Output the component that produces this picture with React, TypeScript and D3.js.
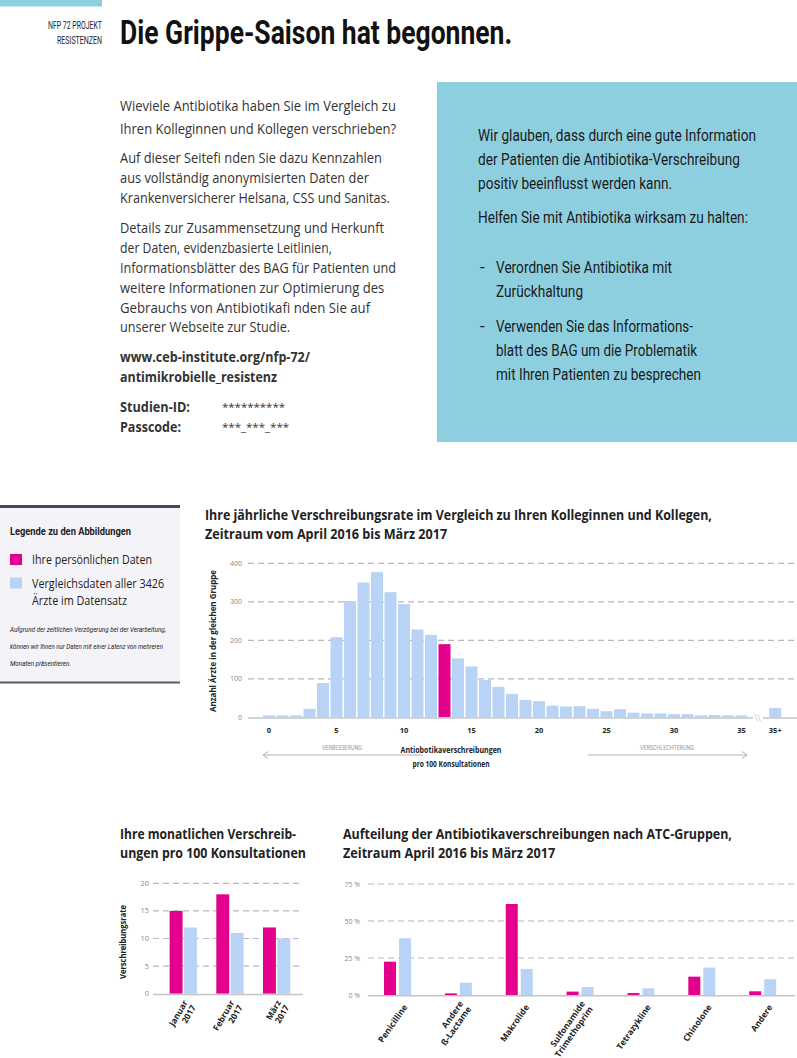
import React, { useLayoutEffect, useRef, useState, useEffect } from "react";
import * as d3 from "d3";

// ---------- DATA ----------
const histBins = [0, 1, 2, 3, 4, 5, 6, 7, 8, 9, 10, 11, 12, 13, 14, 15, 16, 17, 18, 19, 20, 21, 22, 23, 24, 25, 26, 27, 28, 29, 30, 31, 32, 33, 34, 35];
const histCounts = [5, 5, 5, 22, 89, 208, 302, 350, 377, 325, 294, 228, 214, 190, 153, 132, 97, 79, 61, 45, 42, 30, 28, 29, 22, 16, 21, 12, 10, 10, 8, 8, 5, 6, 5, 5];
const histOverflowLabel = "35+";
const histOverflowCount = 24;
const ownBin = 13;
const histXTicks = [0, 5, 10, 15, 20, 25, 30, 35];
const histYTicks = [0, 100, 200, 300, 400];

const months = ["Januar|2017", "Februar|2017", "März|2017"];
const monthOwn = [15, 18, 12];
const monthAll = [12, 11, 10];
const monthYTicks = [0, 5, 10, 15, 20];

const atcGroups = ["Penicilline", "Andere|ß-Lactame", "Makrolide", "Sulfonamide|Trimethoprim", "Tetrazykline", "Chinolone", "Andere"];
const atcOwn = [22.5, 1.1, 61.5, 2.3, 1.3, 12.4, 2.5];
const atcAll = [38.3, 8.3, 17.6, 5.4, 4.5, 18.5, 10.6];
const atcYTicks = [0, 25, 50, 75];

// ---------- STYLE ----------
const PINK = "#e2008c";
const BLUE = "#b9d3f6";
const TEAL = "#8ecfdf";
const GRID = "#b8b8b8";
const TEXT = "'Open Sans', 'Noto Sans', sans-serif";
const COND = "'Liberation Sans Narrow', 'Roboto', 'Noto Sans', sans-serif";

type TP = {
  x: number; y: number; w?: number; size: number; weight?: number; family?: string;
  anchor?: string; fill?: string; italic?: boolean; rotate?: number; children: React.ReactNode;
};

// Text that is horizontally scaled to a target width (measured after layout)
function T({ x, y, w, size, weight = 400, family = TEXT, anchor = "start", fill = "#222", italic = false, rotate = 0, children }: TP) {
  const ref = useRef<SVGTextElement>(null);
  const [s, setS] = useState(1);
  const measure = () => {
    if (w && ref.current) {
      const n = ref.current.getComputedTextLength();
      if (n > 0) setS(w / n);
    }
  };
  useLayoutEffect(measure, [w, children, size, family, weight]);
  useEffect(() => {
    const f: any = (document as any).fonts;
    if (f && f.ready) f.ready.then(measure);
  }, []);
  return (
    <text
      ref={ref}
      transform={`translate(${x},${y}) rotate(${rotate}) scale(${s},1)`}
      x={0}
      y={0}
      fontSize={size}
      fontWeight={weight}
      fontFamily={family}
      textAnchor={anchor as any}
      fill={fill}
      fontStyle={italic ? "italic" : "normal"}
    >
      {children}
    </text>
  );
}

function Histogram() {
  const x = d3.scaleLinear().domain([0, 37.5]).range([269, 775.25]);
  const y = d3.scaleLinear().domain([0, 400]).range([717.3, 563.3]);
  const bw = 12;
  return (
    <g>
      <T x={205} y={520} w={507} size={14.5} weight={700}>Ihre jährliche Verschreibungsrate im Vergleich zu Ihren Kolleginnen und Kollegen,</T>
      <T x={205} y={539} w={242} size={14.5} weight={700}>Zeitraum vom April 2016 bis März 2017</T>
      {histYTicks.filter((t) => t > 0).map((t) => (
        <line key={t} x1={248} x2={797} y1={y(t)} y2={y(t)} stroke={GRID} strokeWidth={1.2} strokeDasharray="6,4" />
      ))}
      {histYTicks.map((t) => (
        <T key={t} x={242} y={y(t) + 2.5} size={7} fill="#8a8a8a" anchor="end">{t}</T>
      ))}
      {histBins.map((b, i) => (
        <rect key={b} x={x(b) - bw / 2} y={y(histCounts[i])} width={bw} height={y(0) - y(histCounts[i])} fill={b === ownBin ? PINK : BLUE} />
      ))}
      <rect x={x(37.5) - bw / 2} y={y(histOverflowCount)} width={bw} height={y(0) - y(histOverflowCount)} fill={BLUE} />
      <line x1={248} x2={753} y1={y(0) + 0.7} y2={y(0) + 0.7} stroke="#c4c4c4" strokeWidth={1.5} />
      <line x1={763} x2={797} y1={y(0) + 0.7} y2={y(0) + 0.7} stroke="#c4c4c4" strokeWidth={1.5} />
      <line x1={755} x2={757.5} y1={y(0) - 3} y2={y(0) + 4} stroke="#c4c4c4" strokeWidth={0.8} />
      <line x1={758} x2={760.5} y1={y(0) - 3} y2={y(0) + 4} stroke="#c4c4c4" strokeWidth={0.8} />
      {histXTicks.map((t) => (
        <T key={t} x={x(t)} y={733} size={7.5} weight={700} anchor="middle">{t}</T>
      ))}
      <T x={x(37.5)} y={733} size={7.5} weight={700} anchor="middle">{histOverflowLabel}</T>
      <T x={216} y={641} w={142} rotate={-90} size={8.6} weight={700} anchor="middle">Anzahl Ärzte in der gleichen Gruppe</T>
      {/* direction arrows */}
      <T x={342} y={750} w={40} size={6.5} family={COND} fill="#999" anchor="middle">VERBESSERUNG</T>
      <line x1={263} x2={423} y1={755} y2={755} stroke="#aaa" strokeWidth={0.9} />
      <polyline points="268,751.5 263,755 268,758.5" fill="none" stroke="#aaa" strokeWidth={0.9} />
      <T x={667} y={750} w={54} size={6.5} family={COND} fill="#999" anchor="middle">VERSCHLECHTERUNG</T>
      <line x1={588} x2={747} y1={755} y2={755} stroke="#aaa" strokeWidth={0.9} />
      <polyline points="742,751.5 747,755 742,758.5" fill="none" stroke="#aaa" strokeWidth={0.9} />
      <T x={451} y={753} w={101} size={8.5} weight={700} anchor="middle">Antiobotikaverschreibungen</T>
      <T x={451} y={767} w={77} size={8.5} weight={700} anchor="middle">pro 100 Konsultationen</T>
    </g>
  );
}

function MonthlyChart() {
  const x = d3.scaleBand().domain(months).range([160, 300]);
  const inner = d3.scaleBand().domain(["own", "all"]).range([-13.7, 13.6]).paddingInner(0.1);
  const y = d3.scaleLinear().domain([0, 20]).range([993.7, 883.3]);
  return (
    <g>
      <T x={120} y={839} w={176} size={14.5} weight={700}>Ihre monatlichen Verschreib-</T>
      <T x={120} y={858} w={186} size={14.5} weight={700}>ungen pro 100 Konsultationen</T>
      {monthYTicks.filter((t) => t > 0).map((t) => (
        <line key={t} x1={153} x2={303} y1={y(t)} y2={y(t)} stroke={GRID} strokeWidth={1.2} strokeDasharray="6,4" />
      ))}
      {monthYTicks.map((t) => (
        <T key={t} x={149} y={y(t) + 2.5} size={7.5} fill="#8a8a8a" anchor="end">{t}</T>
      ))}
      {months.map((m, i) => {
        const c = (x(m) as number) + x.bandwidth() / 2;
        return (
          <g key={m}>
            <rect x={c + (inner("own") as number)} y={y(monthOwn[i])} width={inner.bandwidth()} height={y(0) - y(monthOwn[i])} fill={PINK} />
            <rect x={c + (inner("all") as number)} y={y(monthAll[i])} width={inner.bandwidth()} height={y(0) - y(monthAll[i])} fill={BLUE} />
            <g transform={`translate(${c + 2},${1001}) rotate(-60)`}>
              {m.split("|").map((line, j) => (
                <text key={j} x={0} y={3 + j * 9.5} fontSize={8.5} fontWeight={700} fontFamily={TEXT} textAnchor="end" fill="#222">{line}</text>
              ))}
            </g>
          </g>
        );
      })}
      <line x1={153} x2={303} y1={y(0) + 0.7} y2={y(0) + 0.7} stroke="#c4c4c4" strokeWidth={1.5} />
      <T x={126} y={942} w={74} rotate={-90} size={8.6} weight={700} anchor="middle">Verschreibungsrate</T>
    </g>
  );
}

function AtcChart() {
  const x = d3.scaleBand().domain(atcGroups).range([368, 794]);
  const inner = d3.scaleBand().domain(["own", "all"]).range([-14.4, 12.6]).paddingInner(0.2);
  const y = d3.scaleLinear().domain([0, 75]).range([995, 884]);
  return (
    <g>
      <T x={343} y={839} w={389} size={14.5} weight={700}>Aufteilung der Antibiotikaverschreibungen nach ATC-Gruppen,</T>
      <T x={343} y={858} w={212} size={14.5} weight={700}>Zeitraum April 2016 bis März 2017</T>
      {atcYTicks.filter((t) => t > 0).map((t) => (
        <line key={t} x1={368} x2={795} y1={y(t)} y2={y(t)} stroke={GRID} strokeWidth={1.2} strokeDasharray="6,4" />
      ))}
      {atcYTicks.map((t) => (
        <T key={t} x={360} y={y(t) + 2.5} size={7} fill="#8a8a8a" anchor="end">{`${t} %`}</T>
      ))}
      {atcGroups.map((g, i) => {
        const c = (x(g) as number) + x.bandwidth() / 2;
        const lines = g.split("|");
        return (
          <g key={g + i}>
            <rect x={c + (inner("own") as number)} y={y(atcOwn[i])} width={inner.bandwidth()} height={y(0) - y(atcOwn[i])} fill={PINK} />
            <rect x={c + (inner("all") as number)} y={y(atcAll[i])} width={inner.bandwidth()} height={y(0) - y(atcAll[i])} fill={BLUE} />
            <g transform={`translate(${c + 2},${1002}) rotate(-55)`}>
              {lines.map((line, j) => (
                <text key={j} x={0} y={(lines.length === 1 ? 9 : 3) + j * 9.5} fontSize={8.5} fontWeight={700} fontFamily={TEXT} textAnchor="end" fill="#222">{line}</text>
              ))}
            </g>
          </g>
        );
      })}
      <line x1={368} x2={795} y1={y(0) + 0.7} y2={y(0) + 0.7} stroke="#c4c4c4" strokeWidth={1.5} />
    </g>
  );
}

function Legend() {
  return (
    <g>
      <rect x={0} y={507} width={180} height={175} fill="#f4f4f8" />
      <rect x={0} y={505} width={180} height={3} fill="#45475f" />
      <rect x={0} y={681.5} width={180} height={2} fill="#55566a" />
      <T x={10} y={535} w={121} size={10.5} weight={700} family={COND}>Legende zu den Abbildungen</T>
      <rect x={10} y={554} width={12} height={11} fill={PINK} />
      <T x={32} y={563.5} w={120} size={12.5}>Ihre persönlichen Daten</T>
      <rect x={10} y={577.5} width={12} height={11} fill={BLUE} />
      <T x={32} y={587.5} w={132} size={12.5}>Vergleichsdaten aller 3426</T>
      <T x={32} y={605} w={95} size={12.5}>Ärzte im Datensatz</T>
      <T x={10} y={632} w={156} size={8} family={COND} italic>Aufgrund der zeitlichen Verzögerung bei der Verarbeitung,</T>
      <T x={10} y={649} w={153} size={8} family={COND} italic>können wir Ihnen nur Daten mit einer Latenz von mehreren</T>
      <T x={10} y={666} w={61} size={8} family={COND} italic>Monaten präsentieren.</T>
    </g>
  );
}

function Header() {
  return (
    <g>
      <rect x={0} y={0} width={102} height={6.5} fill={TEAL} />
      <T x={102} y={29} w={54} size={11} family={COND} anchor="end" fill="#222">NFP 72 PROJEKT</T>
      <T x={102} y={43.5} w={45} size={11} family={COND} anchor="end" fill="#222">RESISTENZEN</T>
      <T x={120} y={43.5} w={392} size={34} weight={700} family={COND} fill="#111">Die Grippe-Saison hat begonnen.</T>
    </g>
  );
}

function LeftText() {
  const c = "#333";
  return (
    <g>
      <T x={120} y={111} w={276} size={14} fill={c}>Wieviele Antibiotika haben Sie im Vergleich zu</T>
      <T x={120} y={134} w={276} size={14} fill={c}>Ihren Kolleginnen und Kollegen verschrieben?</T>
      <T x={120} y={163} w={262} size={14} fill={c}>Auf dieser Seitefi nden Sie dazu Kennzahlen</T>
      <T x={120} y={183} w={249} size={14} fill={c}>aus vollständig anonymisierten Daten der</T>
      <T x={120} y={203} w={270} size={14} fill={c}>Krankenversicherer Helsana, CSS und Sanitas.</T>
      <T x={120} y={233} w={264} size={14} fill={c}>Details zur Zusammensetzung und Herkunft</T>
      <T x={120} y={253} w={212} size={14} fill={c}>der Daten, evidenzbasierte Leitlinien,</T>
      <T x={120} y={273} w={276} size={14} fill={c}>Informationsblätter des BAG für Patienten und</T>
      <T x={120} y={293} w={264} size={14} fill={c}>weitere Informationen zur Optimierung des</T>
      <T x={120} y={313} w={250} size={14} fill={c}>Gebrauchs von Antibiotikafi nden Sie auf</T>
      <T x={120} y={332} w={170} size={14} fill={c}>unserer Webseite zur Studie.</T>
      <T x={120} y={362} w={190} size={14} weight={700} fill={c}>www.ceb-institute.org/nfp-72/</T>
      <T x={120} y={382} w={157} size={14} weight={700} fill={c}>antimikrobielle_resistenz</T>
      <T x={120} y={412} w={70} size={14} weight={700} fill={c}>Studien-ID:</T>
      <T x={222} y={411} w={63} size={11} fill={c}>**********</T>
      <T x={120} y={432} w={61} size={14} weight={700} fill={c}>Passcode:</T>
      <T x={222} y={431} w={67} size={11} fill={c}>***_***_***</T>
    </g>
  );
}

function RightBox() {
  const c = "#1a1a1a";
  return (
    <g>
      <rect x={437} y={82} width={360} height={360} fill={TEAL} />
      <T x={478} y={141} w={278} size={17} family={COND} fill={c}>Wir glauben, dass durch eine gute Information</T>
      <T x={478} y={165} w={262} size={17} family={COND} fill={c}>der Patienten die Antibiotika-Verschreibung</T>
      <T x={478} y={189} w={194} size={17} family={COND} fill={c}>positiv beeinflusst werden kann.</T>
      <T x={478} y={223} w={270} size={17} family={COND} fill={c}>Helfen Sie mit Antibiotika wirksam zu halten:</T>
      <T x={480} y={273} size={17} family={COND} fill={c}>-</T>
      <T x={496} y={273} w={176} size={17} family={COND} fill={c}>Verordnen Sie Antibiotika mit</T>
      <T x={496} y={297} w={87} size={17} family={COND} fill={c}>Zurückhaltung</T>
      <T x={480} y={332} size={17} family={COND} fill={c}>-</T>
      <T x={496} y={332} w={197} size={17} family={COND} fill={c}>Verwenden Sie das Informations-</T>
      <T x={496} y={356} w={201} size={17} family={COND} fill={c}>blatt des BAG um die Problematik</T>
      <T x={496} y={380} w={205} size={17} family={COND} fill={c}>mit Ihren Patienten zu besprechen</T>
    </g>
  );
}

export default function App() {
  return (
    <svg
      width={797}
      height={1058}
      viewBox="0 0 797 1058"
      style={{ position: "absolute", left: 0, top: 0, background: "#fff" }}
    >
      <rect x={0} y={0} width={797} height={1058} fill="#fff" />
      <Header />
      <LeftText />
      <RightBox />
      <Legend />
      <Histogram />
      <MonthlyChart />
      <AtcChart />
    </svg>
  );
}
